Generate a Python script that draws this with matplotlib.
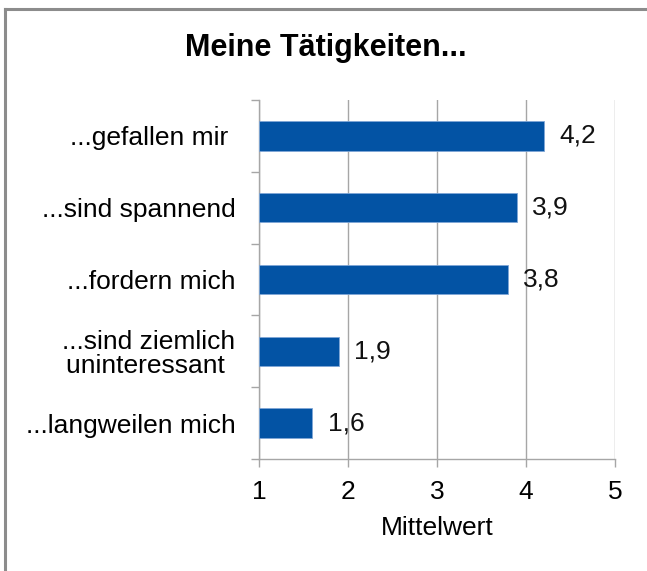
import matplotlib.pyplot as plt
from matplotlib.lines import Line2D
import numpy as np

plt.rcParams['font.family'] = ['Liberation Sans', 'DejaVu Sans']

# data
categories = ['...gefallen mir ', '...sind spannend', '...fordern mich',
              '...sind ziemlich\nuninteressant ', '...langweilen mich']
values = [4.2, 3.9, 3.8, 1.9, 1.6]
value_labels = ['4,2', '3,9', '3,8', '1,9', '1,6']
x_ticks = [1, 2, 3, 4, 5]

bar_color = '#0353a4'
grid_color = '#a6a6a6'
fs = 19

fig = plt.figure(figsize=(6.47, 5.71), dpi=100)
ax = fig.add_axes([259 / 647, 1 - 459 / 571, 356 / 647, 359 / 571])

y = np.arange(len(categories))
base = x_ticks[0]
ax.barh(y, np.array(values) - base, left=base, height=0.41,
        color=bar_color, edgecolor='#7fa6d6', linewidth=0.6, zorder=3)

for yi, v, lab in zip(y, values, value_labels):
    ax.annotate(lab, xy=(v, yi), xytext=(11, 0), textcoords='offset points',
                ha='left', va='center', fontsize=fs, color='#111111')

ax.set_xlim(1, 5)
ax.set_ylim(len(categories) - 0.5, -0.5)
ax.set_xticks(x_ticks)
ax.set_xticklabels([str(t) for t in x_ticks], fontsize=fs)
ax.set_yticks(y)
ax.set_yticklabels(categories, fontsize=fs, multialignment='center', linespacing=1.0)
ax.set_yticks(np.arange(-0.5, len(categories)), minor=True)

ax.tick_params(axis='y', which='major', length=0, pad=17)
ax.tick_params(axis='y', which='minor', length=6, color=grid_color, width=1)
ax.tick_params(axis='x', which='major', length=6, color=grid_color, width=1, pad=9)

ax.grid(axis='x', color=grid_color, linewidth=1, zorder=0)
for s in ['top', 'right']:
    ax.spines[s].set_visible(False)
for s in ['left', 'bottom']:
    ax.spines[s].set_color(grid_color)
    ax.spines[s].set_linewidth(1)

ax.set_xlabel('Mittelwert', fontsize=fs, labelpad=9)

fig.text(326 / 647, 1 - 48 / 571, 'Meine Tätigkeiten...', ha='center', va='center',
         fontsize=22, fontweight='bold')

# outer frame (top and left only)
fig.add_artist(Line2D([5 / 647, 1], [1 - 9 / 571, 1 - 9 / 571], color='#8c8c8c', linewidth=2.2))
fig.add_artist(Line2D([5 / 647, 5 / 647], [0, 1 - 9 / 571], color='#8c8c8c', linewidth=2.2))

fig.savefig('out.png', dpi=100)
